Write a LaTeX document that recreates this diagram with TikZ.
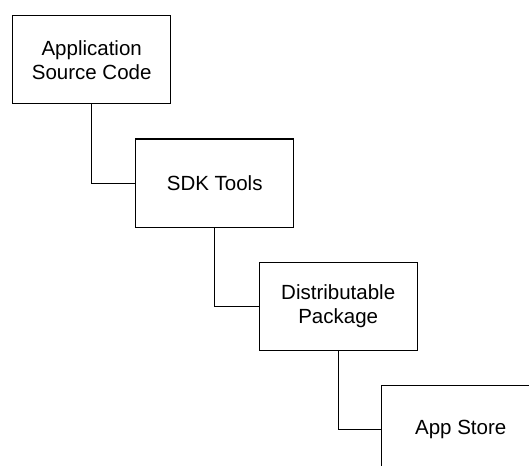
\documentclass[tikz,border=0pt]{standalone}
\usepackage{fontspec}
\setmainfont{Liberation Sans}
\begin{document}
\begin{tikzpicture}[x=1pt,y=-1pt,
  stagebox/.style={draw=black, line width=1.4pt, fill=white, anchor=north west,
    minimum width=158pt, minimum height=88pt, inner sep=0pt, align=center,
    font=\fontsize{20.5}{24}\selectfont, text=black},
  link/.style={draw=black, line width=1.4pt}]
  \clip (0,0) rectangle (529,465);
  \fill[white] (0,0) rectangle (529,465);
  \node[stagebox] (src) at (12,15) {Application\\Source Code};
  \node[stagebox] (sdk) at (135,138.5) {SDK Tools};
  \node[stagebox] (pkg) at (258.5,261.5) {Distributable\\Package};
  \node[stagebox] (store) at (381,385) {App Store};
  \draw[link] (src.south) |- (sdk.west);
  \draw[link] (sdk.south) |- (pkg.west);
  \draw[link] (pkg.south) |- (store.west);
\end{tikzpicture}
\end{document}
